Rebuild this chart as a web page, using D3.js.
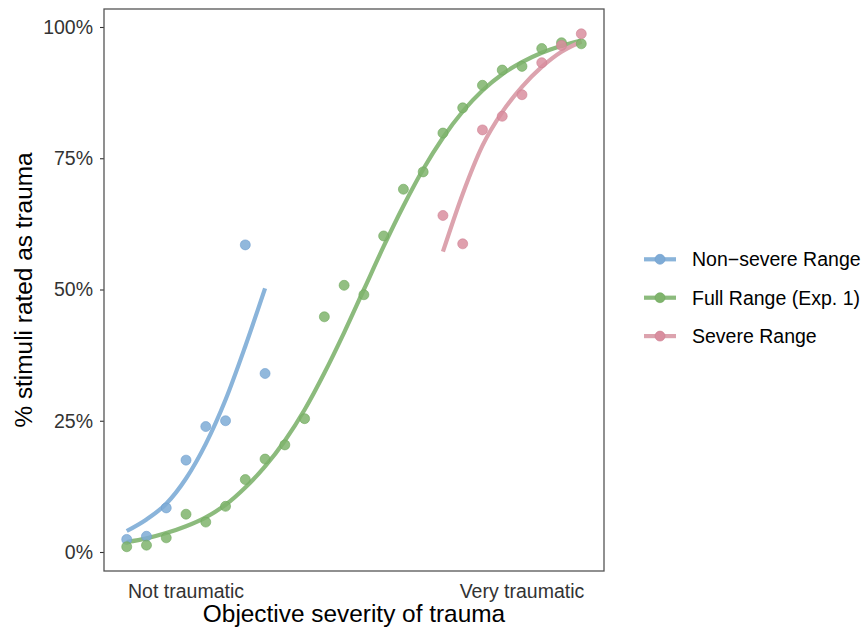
<!DOCTYPE html>
<html>
<head>
<meta charset="utf-8">
<script src="https://cdn.jsdelivr.net/npm/d3@7"></script>
<style>
  html, body { margin: 0; padding: 0; background: #fff; }
  svg { display: block; font-family: 'Liberation Sans', Arial, Helvetica, sans-serif; }
</style>
</head>
<body>
<div id="chart"></div>
<script>
// ── data ────────────────────────────────────────────────
const fullX = [1, 2, 3, 4, 5, 6, 7, 8, 9, 10, 11, 12, 13, 14, 15, 16, 17, 18, 19, 20, 21, 22, 23, 24];
const fullPct = [1.0, 1.3, 2.7, 7.2, 5.7, 8.7, 13.8, 17.7, 20.4, 25.4, 44.8, 50.8,
                 49.0, 60.2, 69.1, 72.4, 79.8, 84.6, 88.9, 91.8, 92.5, 95.9, 97.0, 96.8];
const fullFit = [1.9, 2.6, 3.6, 4.9, 6.6, 9.0, 12.3, 16.3, 21.2, 27.1, 34.1, 41.8,
                 50.0, 58.2, 65.9, 72.9, 78.9, 83.9, 87.9, 91.0, 93.3, 95.1, 96.4, 97.4];

const nonSevereX = [1, 2, 3, 4, 5, 6, 7, 8];
const nonSeverePct = [2.4, 3.0, 8.4, 17.5, 23.9, 25.0, 58.5, 34.0];
const nonSevereFit = [4.0, 6.2, 9.2, 14.0, 20.6, 29.0, 39.2, 50.2];

const severeX = [17, 18, 19, 20, 21, 22, 23, 24];
const severePct = [64.1, 58.7, 80.4, 83.0, 87.1, 93.2, 96.5, 98.7];
const severeFit = [57.2, 68.2, 77.4, 83.8, 88.6, 92.4, 95.3, 97.2];

const yTicks = [0, 25, 50, 75, 100];
const xEndLabels = ['Not traumatic', 'Very traumatic'];
const xEndPos = [4, 21];

const seriesNames = ['Non\u2212severe Range', 'Full Range (Exp. 1)', 'Severe Range'];

// ── styling ─────────────────────────────────────────────
const STYLE = {
  'Non\u2212severe Range': { line: '#8ab4da', fill: '#7eabd6', stroke: '#6f9fcf' },
  'Full Range (Exp. 1)':   { line: '#8cbb7d', fill: '#7fb46c', stroke: '#6fa85d' },
  'Severe Range':          { line: '#dca3ae', fill: '#d98e9f', stroke: '#cf8092' },
};

const W = 865, H = 631;
const panel = { left: 104, right: 604, top: 9, bottom: 571 };

const series = [
  { name: seriesNames[0], x: nonSevereX, pct: nonSeverePct, fit: nonSevereFit },
  { name: seriesNames[1], x: fullX, pct: fullPct, fit: fullFit },
  { name: seriesNames[2], x: severeX, pct: severePct, fit: severeFit },
];

const svg = d3.select('#chart').append('svg')
  .attr('width', W).attr('height', H);

const x = d3.scaleLinear().domain([-0.15, 25.15]).range([panel.left, panel.right]);
const y = d3.scaleLinear().domain([0, 100]).range([552, 27]);

// ── y axis ──────────────────────────────────────────────
const yAxis = svg.append('g')
  .attr('transform', `translate(${panel.left},0)`)
  .call(d3.axisLeft(y).tickValues(yTicks).tickFormat(d => d + '%').tickSize(4).tickPadding(7));
yAxis.select('.domain').remove();
yAxis.selectAll('line').attr('stroke', '#333').attr('stroke-width', 1.1);
yAxis.selectAll('text')
  .attr('font-size', '19.5px')
  .attr('fill', '#333')
  .attr('font-family', "'Liberation Sans', Arial, sans-serif");

// ── x end labels ────────────────────────────────────────
svg.append('g').selectAll('text')
  .data(xEndLabels)
  .join('text')
  .attr('x', (d, i) => x(xEndPos[i]))
  .attr('y', 598)
  .attr('text-anchor', 'middle')
  .attr('font-size', '19.5px')
  .attr('fill', '#333')
  .text(d => d);

// ── axis titles ─────────────────────────────────────────
svg.append('text')
  .attr('x', (panel.left + panel.right) / 2)
  .attr('y', 622)
  .attr('text-anchor', 'middle')
  .attr('font-size', '24.4px')
  .attr('fill', '#000')
  .text('Objective severity of trauma');

svg.append('text')
  .attr('transform', `translate(32,${(panel.top + panel.bottom) / 2}) rotate(-90)`)
  .attr('text-anchor', 'middle')
  .attr('font-size', '24.4px')
  .attr('fill', '#000')
  .text('% stimuli rated as trauma');

// ── fitted curves ───────────────────────────────────────
const line = d3.line()
  .x(d => x(d[0]))
  .y(d => y(d[1]))
  .curve(d3.curveMonotoneX);

const plotG = svg.append('g');

plotG.selectAll('path.fit')
  .data(series)
  .join('path')
  .attr('class', 'fit')
  .attr('d', s => line(s.x.map((v, i) => [v, s.fit[i]])))
  .attr('fill', 'none')
  .attr('stroke', s => STYLE[s.name].line)
  .attr('stroke-width', 4.2)
  .attr('stroke-linecap', 'butt');

// ── points ──────────────────────────────────────────────
series.forEach(s => {
  plotG.append('g').selectAll('circle')
    .data(s.x.map((v, i) => [v, s.pct[i]]))
    .join('circle')
    .attr('cx', d => x(d[0]))
    .attr('cy', d => y(d[1]))
    .attr('r', 5)
    .attr('fill', STYLE[s.name].fill)
    .attr('fill-opacity', 0.85)
    .attr('stroke', STYLE[s.name].stroke)
    .attr('stroke-opacity', 0.6)
    .attr('stroke-width', 1);
});

// ── panel border ────────────────────────────────────────
svg.append('rect')
  .attr('x', panel.left).attr('y', panel.top)
  .attr('width', panel.right - panel.left)
  .attr('height', panel.bottom - panel.top)
  .attr('fill', 'none')
  .attr('stroke', '#555')
  .attr('stroke-width', 1.3);

// ── legend ──────────────────────────────────────────────
const legend = svg.append('g');
const rows = legend.selectAll('g')
  .data(seriesNames)
  .join('g')
  .attr('transform', (d, i) => `translate(0,${259.3 + i * 38.4})`);

rows.append('line')
  .attr('x1', 644).attr('x2', 676)
  .attr('y1', 0).attr('y2', 0)
  .attr('stroke', d => STYLE[d].line)
  .attr('stroke-width', 4.2);
rows.append('circle')
  .attr('cx', 660).attr('cy', 0).attr('r', 5)
  .attr('fill', d => STYLE[d].fill)
  .attr('stroke', d => STYLE[d].stroke)
  .attr('stroke-opacity', 0.6);
rows.append('text')
  .attr('x', 692)
  .attr('y', 0)
  .attr('dy', '0.35em')
  .attr('font-size', '19.5px')
  .attr('fill', '#000')
  .text(d => d);
</script>
</body>
</html>
